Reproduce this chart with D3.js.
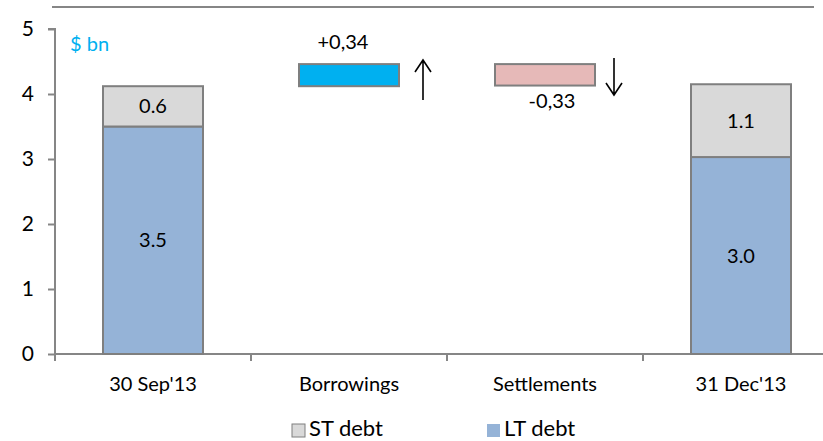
<!DOCTYPE html>
<html><head><meta charset="utf-8">
<script src="https://cdn.jsdelivr.net/npm/d3@7"></script>
<style>body{margin:0;background:#fff}svg{display:block}text{font-family:Lato,"Open Sans",sans-serif}</style>
</head><body><svg id="c" width="823" height="441"></svg>
<script>
const categories = ["30 Sep'13", "Borrowings", "Settlements", "31 Dec'13"];
const ltDebt = [3.5, null, null, 3.03];
const stDebt = [0.62, null, null, 1.12];
const ltLabels = ["3.5", "", "", "3.0"];
const stLabels = ["0.6", "", "", "1.1"];
const flowStart = [null, 4.12, 4.13, null];
const flowEnd = [null, 4.46, 4.46, null];
const flowLabels = ["", "+0,34", "-0,33", ""];
const yTicks = [0, 1, 2, 3, 4, 5];
const legendNames = ["ST debt", "LT debt"];

const svg = d3.select("#c");
const x = d3.scaleBand().domain(categories).range([55, 839]).paddingInner(0).paddingOuter(0);
const y = d3.scaleLinear().domain([0, 5]).range([354, 29]);
const axisCol = "#868686", edge = "#7f7f7f";
const bw = 100;
const cx = c => x(c) + x.bandwidth() / 2;

svg.append("line").attr("x1", 52).attr("x2", 814).attr("y1", 7).attr("y2", 7)
  .attr("stroke", axisCol).attr("stroke-width", 2);

const ya = svg.append("g").attr("transform", "translate(55,0)")
  .call(d3.axisLeft(y).tickValues(yTicks).tickSize(7).tickPadding(14).tickFormat(d3.format("d")));
ya.select(".domain").attr("stroke", axisCol).attr("stroke-width", 2).attr("d", `M-7,${y(5)}H0V${y(0)}`);
ya.selectAll(".tick line").attr("stroke", axisCol).attr("stroke-width", 2);
ya.selectAll(".tick text").attr("font-size", 21).attr("fill", "#000").attr("font-family", "Lato, sans-serif");

const xa = svg.append("g").attr("transform", `translate(0,${y(0)})`)
  .call(d3.axisBottom(x).tickSize(0).tickPadding(23));
xa.select(".domain").attr("stroke", axisCol).attr("stroke-width", 2).attr("d", `M55,0H839`);
xa.selectAll(".tick text").attr("font-size", 20).attr("fill", "#000").attr("font-family", "Lato, sans-serif");
const bounds = categories.map(c => x(c)).concat([x(categories[3]) + x.bandwidth()]);
svg.selectAll(".bt").data(bounds).join("line")
  .attr("x1", d => d).attr("x2", d => d).attr("y1", y(0)).attr("y2", y(0) + 7)
  .attr("stroke", axisCol).attr("stroke-width", 2);

categories.forEach((c, i) => {
  if (ltDebt[i] == null) return;
  svg.append("rect").attr("x", cx(c) - bw / 2).attr("width", bw)
    .attr("y", y(ltDebt[i])).attr("height", y(0) - y(ltDebt[i]))
    .attr("fill", "#95b3d7").attr("stroke", edge).attr("stroke-width", 2);
  svg.append("rect").attr("x", cx(c) - bw / 2).attr("width", bw)
    .attr("y", y(ltDebt[i] + stDebt[i])).attr("height", y(ltDebt[i]) - y(ltDebt[i] + stDebt[i]))
    .attr("fill", "#d9d9d9").attr("stroke", edge).attr("stroke-width", 2);
  svg.append("text").attr("x", cx(c)).attr("y", y(ltDebt[i] / 2) + 7).attr("text-anchor", "middle")
    .attr("font-size", 20).text(ltLabels[i]);
  svg.append("text").attr("x", cx(c)).attr("y", y(ltDebt[i] + stDebt[i] / 2) + 7).attr("text-anchor", "middle")
    .attr("font-size", 20).text(stLabels[i]);
});

categories.forEach((c, i) => {
  if (flowStart[i] == null) return;
  const up = i === 1;
  svg.append("rect").attr("x", cx(c) - bw / 2).attr("width", bw)
    .attr("y", y(flowEnd[i])).attr("height", y(flowStart[i]) - y(flowEnd[i]))
    .attr("fill", up ? "#00b0f0" : "#e6b9b8").attr("stroke", edge).attr("stroke-width", 2);
  svg.append("text").attr("x", cx(c) - (up ? 6 : -7)).attr("y", up ? y(flowEnd[i]) - 15 : y(flowStart[i]) + 22)
    .attr("text-anchor", "middle").attr("font-size", 20).text(flowLabels[i]);
  const ax = cx(c) + bw / 2 + (up ? 24 : 19);
  const y1 = up ? 100 : 58, y2 = up ? 60 : 95;
  const dir = up ? 1 : -1;
  svg.append("path")
    .attr("d", `M${ax},${y1}V${y2}M${ax - 8},${y2 + dir * 12}L${ax},${y2}L${ax + 8},${y2 + dir * 12}`)
    .attr("fill", "none").attr("stroke", "#000").attr("stroke-width", 1.6);
});

svg.append("text").attr("x", 70).attr("y", 51).attr("font-size", 20).attr("fill", "#00b0f0").text("$ bn");

const legColors = ["#d9d9d9", "#95b3d7"];
const legX = [292, 487];
legendNames.forEach((n, i) => {
  svg.append("rect").attr("x", legX[i]).attr("y", 424).attr("width", 13).attr("height", 13)
    .attr("fill", legColors[i]).attr("stroke", i === 0 ? edge : "none").attr("stroke-width", 1);
  svg.append("text").attr("x", legX[i] + 17).attr("y", 436).attr("font-size", 22).text(n);
});
</script></body></html>
